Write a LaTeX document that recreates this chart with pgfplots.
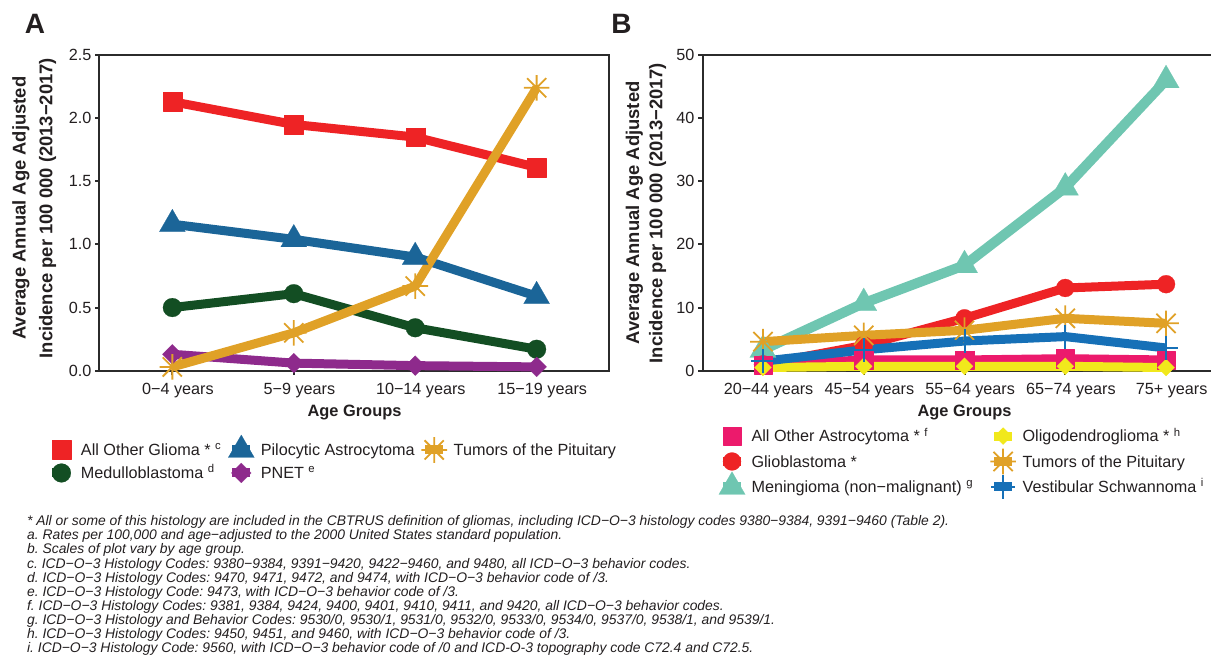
\documentclass[border=0pt]{standalone}
\usepackage{fontspec}
\setmainfont{Liberation Sans}
\usepackage{pgfplots}
\pgfplotsset{compat=1.18}
\frenchspacing
\definecolor{textc}{HTML}{231F20}
\definecolor{axc}{HTML}{2B2B2B}
\definecolor{cRed}{HTML}{EE2325}
\definecolor{cBlueA}{HTML}{1B6598}
\definecolor{cGreen}{HTML}{134E23}
\definecolor{cPurple}{HTML}{8E2A8C}
\definecolor{cOrange}{HTML}{E0A127}
\definecolor{cTeal}{HTML}{6FC6B1}
\definecolor{cBlueB}{HTML}{1670B7}
\definecolor{cPink}{HTML}{EC1A6C}
\definecolor{cYellow}{HTML}{F1E81C}
\newcommand{\fs}[2]{\fontsize{#1}{#2}\selectfont}
\pgfdeclareplotmark{star8}{%
  \pgfpathmoveto{\pgfqpoint{-\pgfplotmarksize}{0pt}}\pgfpathlineto{\pgfqpoint{\pgfplotmarksize}{0pt}}%
  \pgfpathmoveto{\pgfqpoint{0pt}{-\pgfplotmarksize}}\pgfpathlineto{\pgfqpoint{0pt}{\pgfplotmarksize}}%
  \pgfpathmoveto{\pgfqpoint{-.75\pgfplotmarksize}{-.75\pgfplotmarksize}}\pgfpathlineto{\pgfqpoint{.75\pgfplotmarksize}{.75\pgfplotmarksize}}%
  \pgfpathmoveto{\pgfqpoint{-.75\pgfplotmarksize}{.75\pgfplotmarksize}}\pgfpathlineto{\pgfqpoint{.75\pgfplotmarksize}{-.75\pgfplotmarksize}}%
  \pgfusepathqstroke}
\pgfplotsset{
  panel/.style={
    scale only axis, anchor=south west, height=157.85pt, clip=false,
    axis line style={color=axc, line width=1pt},
    tick style={color=axc, line width=1pt},
    tick align=outside, xtick pos=bottom, ytick pos=left,
    major tick length=2.2pt,
    /pgf/number format/assume math mode=true,
    tick label style={font=\fs{8.1}{9}, text=textc},
    xticklabel style={anchor=base, yshift=-9.6pt, xshift=2.8pt},
    yticklabel style={anchor=east, inner xsep=0pt, xshift=-1.7pt},
    xlabel style={at={(axis description cs:0.5,0)}, anchor=base, yshift=-23pt, font=\bfseries\fs{8.2}{10}, text=textc},
    legend style={draw=none, fill=none, inner sep=0pt, outer sep=0pt,
      font=\fs{8.1}{9}, text=textc, column sep=0pt,
      nodes={inner xsep=2.75pt, inner ysep=0pt, text height=6pt, text depth=2pt},
      cells={anchor=base west}},
    legend image code/.code={
      \path[draw=none, fill=none] (0pt,-2pt) rectangle (14pt,6pt);
      \draw[##1,mark=none,line cap=butt] (2.5pt,2.83pt) -- (11.5pt,2.83pt);
      \draw[##1,overlay] plot coordinates {(7pt,2.83pt)};
    },
  },
  sRed/.style={cRed, line width=4.5pt, line join=round, mark=square*, mark size=4.7pt, mark options={draw=none, fill=cRed, line width=0.1pt}},
  sBlueA/.style={cBlueA, line width=4.5pt, line join=round, mark=triangle*, mark size=7.5pt, mark options={draw=none, fill=cBlueA, line width=0.1pt}},
  sGreen/.style={cGreen, line width=4.5pt, line join=round, mark=*, mark size=4.7pt, mark options={draw=none, fill=cGreen, line width=0.1pt}},
  sPurple/.style={cPurple, line width=4.5pt, line join=round, mark=square*, mark size=3.5pt, mark options={draw=none, fill=cPurple, rotate=45, line width=0.1pt}},
  sOrange/.style={cOrange, line width=4.5pt, line join=round, mark=star8, mark size=6.4pt, mark options={line width=0.9pt}},
  sTeal/.style={cTeal, line width=5pt, line join=round, mark=triangle*, mark size=7.6pt, mark options={draw=none, fill=cTeal, line width=0.1pt}},
  sRedB/.style={cRed, line width=4.5pt, line join=round, mark=*, mark size=4.5pt, mark options={draw=none, fill=cRed, line width=0.1pt}},
  sPink/.style={cPink, line width=4.5pt, line join=round, mark=square*, mark size=4.6pt, mark options={draw=none, fill=cPink, line width=0.1pt}},
  sYellow/.style={cYellow, line width=4.5pt, line join=round, mark=square*, mark size=3.0pt, mark options={draw=none, fill=cYellow, rotate=45, line width=0.1pt}},
  sBlueB/.style={cBlueB, line width=4.5pt, line join=round, mark=+, mark size=6pt, mark options={line width=1pt}},
}
\begin{document}
\begin{tikzpicture}
% ---------------- Panel A ----------------
\begin{axis}[panel, at={(49.75pt,144.15pt)}, width=255pt,
  xmin=0.4, xmax=4.6, ymin=0, ymax=2.5,
  xtick={1,2,3,4}, xticklabels={0−4 years,5−9 years,10−14 years,15−19 years},
  ytick={0,0.5,1,1.5,2,2.5},
  yticklabel style={/pgf/number format/.cd, fixed, fixed zerofill, precision=1},
  xlabel={Age Groups},
  ylabel={Average Annual Age Adjusted\\Incidence per 100 000 (2013−2017)},
  ylabel style={at={(axis description cs:-0.128,0.515)}, anchor=center, align=center, font=\bfseries\fs{9.2}{13.35}, text=textc},
  legend columns=3,
  legend style={at={(-0.102,-0.231)}, anchor=north west, row sep=3.5pt,
    /tikz/every even column/.append style={column sep=0pt}},
]
\addlegendimage{sRed}\addlegendentry{All Other Glioma * \textsuperscript{c}}
\addlegendimage{sBlueA}\addlegendentry{Pilocytic Astrocytoma}
\addlegendimage{sOrange}\addlegendentry{Tumors of the Pituitary}
\addlegendimage{sGreen}\addlegendentry{Medulloblastoma \textsuperscript{d}}
\addlegendimage{sPurple}\addlegendentry{PNET \textsuperscript{e}}
\addplot[sRed, forget plot] coordinates {(1,2.13) (2,1.95) (3,1.85) (4,1.61)};
\addplot[sBlueA, forget plot] coordinates {(1,1.16) (2,1.04) (3,0.90) (4,0.59)};
\addplot[sGreen, forget plot] coordinates {(1,0.50) (2,0.61) (3,0.34) (4,0.17)};
\addplot[sPurple, forget plot] coordinates {(1,0.13) (2,0.06) (3,0.04) (4,0.03)};
\addplot[sOrange, forget plot] coordinates {(1,0.03) (2,0.30) (3,0.67) (4,2.24)};
\end{axis}
% ---------------- Panel B ----------------
\begin{axis}[panel, at={(351.25pt,144.15pt)}, width=262pt,
  xmin=0.4, xmax=5.6, ymin=0, ymax=50,
  xtick={1,2,3,4,5}, xticklabels={20−44 years,45−54 years,55−64 years,65−74 years,75+ years},
  ytick={0,10,20,30,40,50},
  xlabel={Age Groups},
  ylabel={Average Annual Age Adjusted\\Incidence per 100 000 (2013−2017)},
  ylabel style={at={(axis description cs:-0.108,0.4995)}, anchor=center, align=center, font=\bfseries\fs{9.2}{11.65}, text=textc},
  legend columns=2,
  legend style={at={(0.0296,-0.187)}, anchor=north west, row sep=4.7pt,
    /tikz/every even column/.append style={column sep=5pt}},
]
\addlegendimage{sPink}\addlegendentry{All Other Astrocytoma * \textsuperscript{f}}
\addlegendimage{sYellow}\addlegendentry{Oligodendroglioma * \textsuperscript{h}}
\addlegendimage{sRedB}\addlegendentry{Glioblastoma *}
\addlegendimage{sOrange}\addlegendentry{Tumors of the Pituitary}
\addlegendimage{sTeal}\addlegendentry{Meningioma (non−malignant) \textsuperscript{g}}
\addlegendimage{sBlueB}\addlegendentry{Vestibular Schwannoma \textsuperscript{i}}
\addplot[sTeal, forget plot] coordinates {(1,3.3) (2,10.7) (3,16.7) (4,29.0) (5,46.0)};
\addplot[sRedB, forget plot] coordinates {(1,1.0) (2,4.0) (3,8.3) (4,13.1) (5,13.7)};
\addplot[sPink, forget plot] coordinates {(1,0.9) (2,1.7) (3,1.7) (4,1.9) (5,1.7)};
\addplot[sYellow, forget plot] coordinates {(1,0.5) (2,0.7) (3,0.7) (4,0.7) (5,0.5)};
\addplot[sOrange, forget plot] coordinates {(1,4.6) (2,5.6) (3,6.4) (4,8.3) (5,7.5)};
\addplot[sBlueB, forget plot] coordinates {(1,1.5) (2,3.3) (3,4.7) (4,5.4) (5,3.6)};
\end{axis}
% ---------------- Panel letters ----------------
\node[anchor=base west, inner sep=0pt, font=\bfseries\fs{14}{16}, text=textc] at (12.25pt,312.85pt) {A};
\node[anchor=base west, inner sep=0pt, font=\bfseries\fs{14}{16}, text=textc] at (305.5pt,312.85pt) {B};
% ---------------- Footnotes ----------------
\begin{scope}[every node/.style={anchor=base west, inner sep=0pt, font=\itshape\fs{6.95}{7}, text=textc}]
\node at (13.35pt,66.65pt) {* All or some of this histology are included in the CBTRUS definition of gliomas, including ICD−O−3 histology codes 9380−9384, 9391−9460 (Table 2).};
\node at (13.35pt,59.60pt) {a. Rates per 100,000 and age−adjusted to the 2000 United States standard population.};
\node at (13.35pt,52.54pt) {b. Scales of plot vary by age group.};
\node at (13.35pt,45.49pt) {c. ICD−O−3 Histology Codes: 9380−9384, 9391−9420, 9422−9460, and 9480, all ICD−O−3 behavior codes.};
\node at (13.35pt,38.43pt) {d. ICD−O−3 Histology Codes: 9470, 9471, 9472, and 9474, with ICD−O−3 behavior code of /3.};
\node at (13.35pt,31.38pt) {e. ICD−O−3 Histology Code: 9473, with ICD−O−3 behavior code of /3.};
\node at (13.35pt,24.32pt) {f. ICD−O−3 Histology Codes: 9381, 9384, 9424, 9400, 9401, 9410, 9411, and 9420, all ICD−O−3 behavior codes.};
\node at (13.35pt,17.27pt) {g. ICD−O−3 Histology and Behavior Codes: 9530/0, 9530/1, 9531/0, 9532/0, 9533/0, 9534/0, 9537/0, 9538/1, and 9539/1.};
\node at (13.35pt,10.21pt) {h. ICD−O−3 Histology Codes: 9450, 9451, and 9460, with ICD−O−3 behavior code of /3.};
\node at (13.35pt,3.16pt) {i. ICD−O−3 Histology Code: 9560, with ICD−O−3 behavior code of /0 and ICD-O-3 topography code C72.4 and C72.5.};
\end{scope}
\pgfresetboundingbox
\path[use as bounding box] (0pt,0pt) rectangle (605.5pt,329.5pt);
\end{tikzpicture}
\end{document}
